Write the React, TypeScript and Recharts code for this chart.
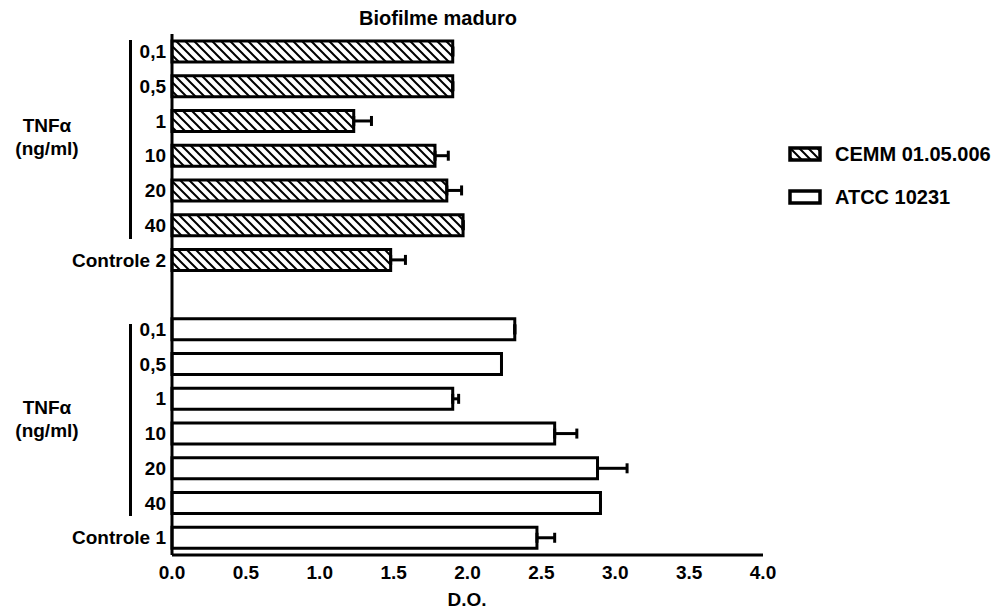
import { Bar, BarChart, Cell, ErrorBar, XAxis, YAxis } from "recharts";

const ROW_LABELS = [
  "0,1", "0,5", "1", "10", "20", "40", "Controle 2",
  "",
  "0,1", "0,5", "1", "10", "20", "40", "Controle 1",
];
const ROW_STRAIN = [
  "cemm", "cemm", "cemm", "cemm", "cemm", "cemm", "cemm",
  "",
  "atcc", "atcc", "atcc", "atcc", "atcc", "atcc", "atcc",
];
const DO_VALUES = [1.9, 1.9, 1.23, 1.78, 1.86, 1.97, 1.48, null, 2.32, 2.23, 1.9, 2.59, 2.88, 2.9, 2.47];
const DO_ERRORS = [0, 0, 0.12, 0.09, 0.1, 0, 0.1, null, 0, 0, 0.04, 0.15, 0.2, 0, 0.12];
const X_TICKS = [0, 0.5, 1, 1.5, 2, 2.5, 3, 3.5, 4];

const SERIES = [
  { key: "cemm", label: "CEMM 01.05.006", fill: "url(#hatch)" },
  { key: "atcc", label: "ATCC 10231", fill: "#ffffff" },
];

const FONT = "'Liberation Sans', Arial, sans-serif";
const FS = 19;

const data = ROW_LABELS.map((label, i) => ({
  id: `r${i}`,
  label,
  strain: ROW_STRAIN[i],
  value: DO_VALUES[i],
  err: DO_ERRORS[i] == null ? undefined : [0, DO_ERRORS[i]],
}));

const fillFor = (strain: string) => SERIES.find((s) => s.key === strain)?.fill ?? "none";

const textStyle = {
  position: "absolute" as const,
  fontFamily: FONT,
  fontWeight: "bold" as const,
  fontSize: FS,
  textAlign: "center" as const,
  lineHeight: "23px",
};

function GroupLabel({ top }: { top: number }) {
  return (
    <div style={{ ...textStyle, left: 0, width: 94, top }}>
      TNFα
      <br />
      (ng/ml)
    </div>
  );
}

export default function App() {
  return (
    <div style={{ position: "absolute", left: 0, top: 0, width: 1008, height: 613, background: "#fff" }}>
      <div style={{ ...textStyle, left: 338, width: 200, top: 7, fontSize: 20 }}>Biofilme maduro</div>

      <BarChart
        width={1008}
        height={613}
        data={data}
        layout="vertical"
        margin={{ top: 34, right: 245, bottom: 28, left: 0 }}
        barSize={21}
      >
        <defs>
          <pattern id="hatch" patternUnits="userSpaceOnUse" width={9} height={9}>
            <rect width={9} height={9} fill="#fff" />
            <path d="M0,0 L9,9 M-2,7 L2,11 M7,-2 L11,2" stroke="#000" strokeWidth={2} />
          </pattern>
        </defs>
        <XAxis
          type="number"
          domain={[0, 4]}
          ticks={X_TICKS}
          tickFormatter={(v: number) => v.toFixed(1)}
          axisLine={{ stroke: "#000", strokeWidth: 3 }}
          tickLine={false}
          tickSize={0}
          tickMargin={11}
          height={30}
          tick={{ fill: "#000", fontFamily: FONT, fontWeight: "bold", fontSize: FS }}
        />
        <YAxis
          type="category"
          dataKey="id"
          width={172}
          tickFormatter={(id: string) => data.find((d) => d.id === id)?.label ?? ""}
          axisLine={{ stroke: "#000", strokeWidth: 3 }}
          tickLine={false}
          tickSize={0}
          tickMargin={6}
          interval={0}
          tick={{ fill: "#000", fontFamily: FONT, fontWeight: "bold", fontSize: FS }}
        />
        <Bar dataKey="value" stroke="#000" strokeWidth={3} isAnimationActive={false}>
          {data.map((d) => (
            <Cell key={d.id} fill={fillFor(d.strain)} />
          ))}
          <ErrorBar dataKey="err" direction="x" width={5} stroke="#000" strokeWidth={3} />
        </Bar>
      </BarChart>

      <div style={{ ...textStyle, left: 367, width: 200, top: 588 }}>D.O.</div>

      {/* group brackets */}
      <div style={{ position: "absolute", left: 129, top: 40, width: 3, height: 199, background: "#000" }} />
      <div style={{ position: "absolute", left: 129, top: 324, width: 3, height: 192, background: "#000" }} />
      <GroupLabel top={114} />
      <GroupLabel top={396} />

      {/* legend */}
      <div style={{ position: "absolute", left: 788, top: 142 }}>
        {SERIES.map((s) => (
          <div key={s.key} style={{ display: "flex", alignItems: "center", height: 24, marginBottom: 19 }}>
            <svg width={36} height={17} style={{ marginRight: 11 }}>
              <defs>
                <pattern id={`lg-${s.key}`} patternUnits="userSpaceOnUse" width={9} height={9}>
                  <rect width={9} height={9} fill="#fff" />
                  {s.key === "cemm" && (
                    <path d="M0,0 L9,9 M-2,7 L2,11 M7,-2 L11,2" stroke="#000" strokeWidth={2} />
                  )}
                </pattern>
              </defs>
              <rect x={2} y={2} width={30} height={12} fill={`url(#lg-${s.key})`} stroke="#000" strokeWidth={3.5} />
            </svg>
            <span style={{ fontFamily: FONT, fontWeight: "bold", fontSize: 20 }}>{s.label}</span>
          </div>
        ))}
      </div>
    </div>
  );
}
